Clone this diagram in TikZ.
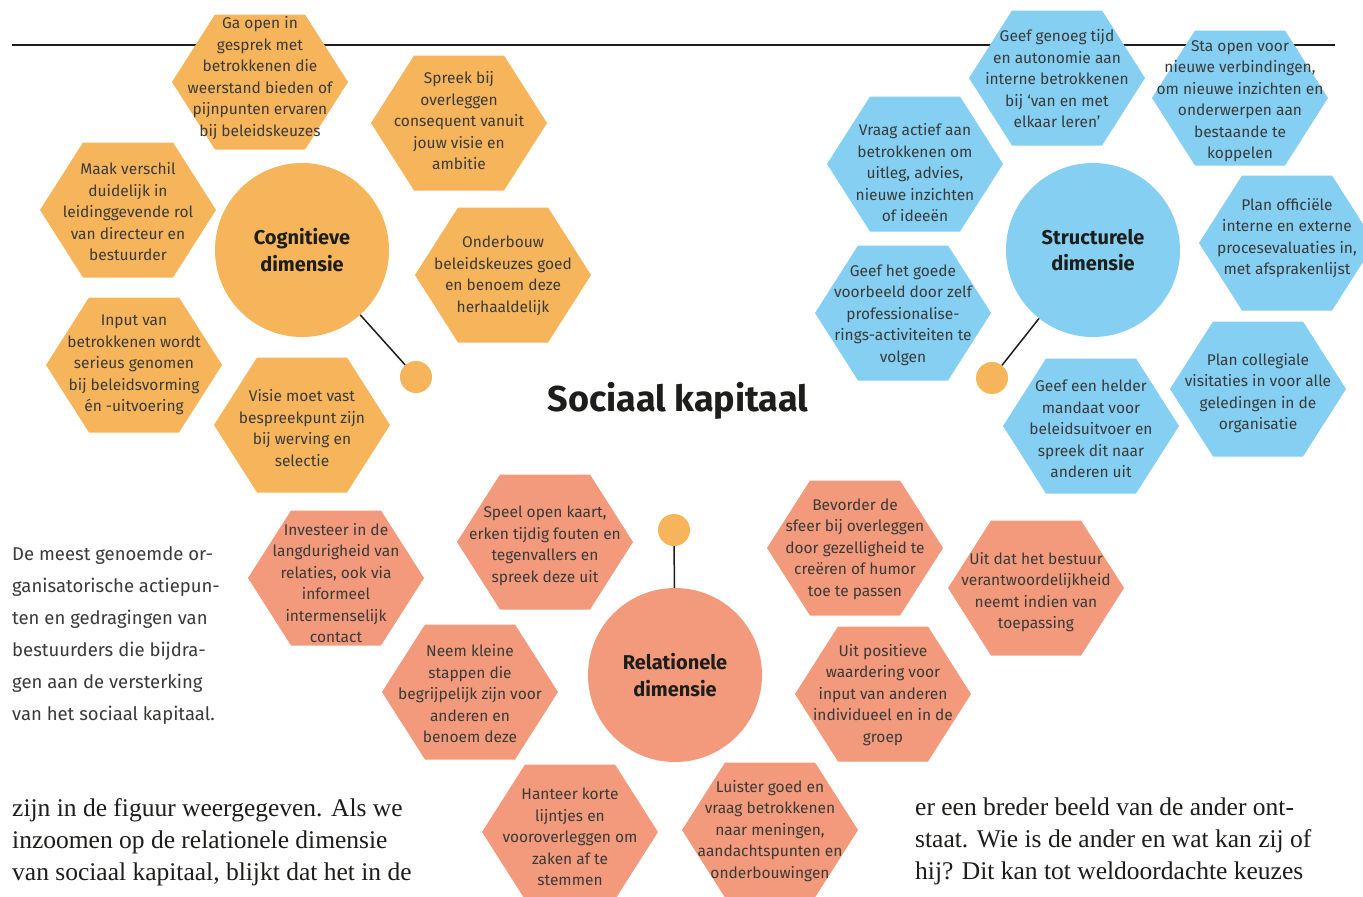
\documentclass[tikz,border=0pt]{standalone}
\usepackage{fontspec}
\setmainfont{Fira Sans}
\newfontfamily\bodyserif{Liberation Serif}
\definecolor{cogfill}{HTML}{F7B55B}
\definecolor{strucfill}{HTML}{85CFF3}
\definecolor{relfill}{HTML}{F29A7B}
\definecolor{ink}{HTML}{3A3A39}
\definecolor{darkink}{HTML}{1D1D1B}
\tikzset{
  cell/.style={font=\fontsize{15.5}{21.5}\selectfont, text=ink, align=center, inner sep=0pt},
  dimension/.style={circle, minimum size=174pt, inner sep=0pt, align=center,
    text=darkink, font=\fontsize{20}{26.5}\selectfont\bfseries},
  dot/.style={circle, minimum size=32pt, inner sep=0pt, fill=cogfill},
  link/.style={line width=1.5pt, darkink},
  caption/.style={font=\fontsize{18.5}{32}\selectfont, text=ink, align=left, inner sep=0pt},
  body/.style={font=\bodyserif\fontsize{25.5}{32}\selectfont, text=darkink, align=left, inner sep=0pt}
}
% flat-topped hexagon: name, centre x, centre y, text y, colour, text
\newcommand\hexcell[6]{%
  \fill[#5, shift={(#2,#3)}] (-88,0) -- (-45,-67.5) -- (45,-67.5) -- (88,0)
    -- (45,67.5) -- (-45,67.5) -- cycle;
  \node[cell] (#1) at (#2,#4) {#6};
}

\begin{document}
\begin{tikzpicture}[x=1pt,y=-1pt]
  \useasboundingbox[fill=white] (0,0) rectangle (1363,897);
  % rule at the top of the page
  \draw[line width=1.2pt, darkink] (12,45) -- (1335,45);
  % cognitive dimension
  \hexcell{gaopen}{260}{82}{78}{cogfill}{Ga open in\\gesprek met\\betrokkenen die\\weerstand bieden of\\pijnpunten ervaren\\bij beleidskeuzes}
  \hexcell{spreek}{459}{123}{121}{cogfill}{Spreek bij\\overleggen\\consequent vanuit\\jouw visie en\\ambitie}
  \hexcell{maak}{128}{210}{212}{cogfill}{Maak verschil\\duidelijk in\\leidinggevende rol\\van directeur en\\bestuurder}
  \hexcell{onderbouw}{503}{275}{276}{cogfill}{Onderbouw\\beleidskeuzes goed\\en benoem deze\\herhaaldelijk}
  \hexcell{input}{134}{365}{365}{cogfill}{Input van\\betrokkenen wordt\\serieus genomen\\bij beleidsvorming\\én -uitvoering}
  \hexcell{visie}{302}{425}{428}{cogfill}{Visie moet vast\\bespreekpunt zijn\\bij werving en\\selectie}
  % structural dimension
  \hexcell{genoeg}{1057}{78}{79}{strucfill}{Geef genoeg tijd\\en autonomie aan\\interne betrokkenen\\bij ‘van en met\\elkaar leren’}
  \hexcell{staopen}{1240}{98}{101}{strucfill}{Sta open voor\\nieuwe verbindingen,\\om nieuwe inzichten en\\onderwerpen aan\\bestaande te\\koppelen}
  \hexcell{vraag}{915}{164}{173}{strucfill}{Vraag actief aan\\betrokkenen om\\uitleg, advies,\\nieuwe inzichten\\of ideeën}
  \hexcell{officieel}{1287}{243}{238}{strucfill}{Plan officiële\\interne en externe\\procesevaluaties in,\\met afsprakenlijst}
  \hexcell{voorbeeld}{903}{313}{315}{strucfill}{Geef het goede\\voorbeeld door zelf\\professionalise-\\rings-activiteiten te\\volgen}
  \hexcell{mandaat}{1091}{426}{429}{strucfill}{Geef een helder\\mandaat voor\\beleidsuitvoer en\\spreek dit naar\\anderen uit}
  \hexcell{visitatie}{1258}{389}{393}{strucfill}{Plan collegiale\\visitaties in voor alle\\geledingen in de\\organisatie}
  % relational dimension
  \hexcell{investeer}{336}{578}{583}{relfill}{Investeer in de\\langdurigheid van\\relaties, ook via\\informeel\\intermenselijk\\contact}
  \hexcell{kaart}{545}{542}{546}{relfill}{Speel open kaart,\\erken tijdig fouten en\\tegenvallers en\\spreek deze uit}
  \hexcell{stappen}{470}{692}{694}{relfill}{Neem kleine\\stappen die\\begrijpelijk zijn voor\\anderen en\\benoem deze}
  \hexcell{sfeer}{855}{548}{549}{relfill}{Bevorder de\\sfeer bij overleggen\\door gezelligheid te\\creëren of humor\\toe te passen}
  \hexcell{bestuur}{1036}{588}{592}{relfill}{Uit dat het bestuur\\verantwoordelijkheid\\neemt indien van\\toepassing}
  \hexcell{waardering}{883}{694}{695}{relfill}{Uit positieve\\waardering voor\\input van anderen\\individueel en in de\\groep}
  \hexcell{lijntjes}{570}{832}{837}{relfill}{Hanteer korte\\lijntjes en\\vooroverleggen om\\zaken af te\\stemmen}
  \hexcell{luister}{770}{830}{831}{relfill}{Luister goed en\\vraag betrokkenen\\naar meningen,\\aandachtspunten en\\onderbouwingen}
  % the three dimensions and their dots
  \node[dimension, fill=cogfill] (cog) at (302,250) {Cognitieve\\dimensie};
  \node[dimension, fill=strucfill] (struc) at (1093,250) {Structurele\\dimensie};
  \node[dimension, fill=relfill] (rel) at (675,675) {Relationele\\dimensie};
  \node[dot] (cogdot) at (416,377) {};
  \node[dot] (strucdot) at (992,378) {};
  \node[dot] (reldot) at (674,530) {};
  \draw[link] (cog) -- (cogdot);
  \draw[link] (struc) -- (strucdot);
  \draw[link] (reldot) -- (rel);
  % title
  \node[font=\fontsize{36}{40}\selectfont\bfseries, text=darkink] (title) at (678,401) {Sociaal kapitaal};
  % caption and running text
  \node[caption, anchor=north west] (note) at (12,546) {De meest genoemde or-\\ganisatorische actiepun-\\ten en gedragingen van\\bestuurders die bijdra-\\gen aan de versterking\\van het sociaal kapitaal.};
  \node[body, anchor=north west] (textleft) at (12,798) {zijn in de figuur weergegeven. Als we\\inzoomen op de relationele dimensie\\van sociaal kapitaal, blijkt dat het in de};
  \node[body, anchor=north west] (textright) at (915,798) {er een breder beeld van de ander ont-\\staat. Wie is de ander en wat kan zij of\\hij? Dit kan tot weldoordachte keuzes};
\end{tikzpicture}
\end{document}
